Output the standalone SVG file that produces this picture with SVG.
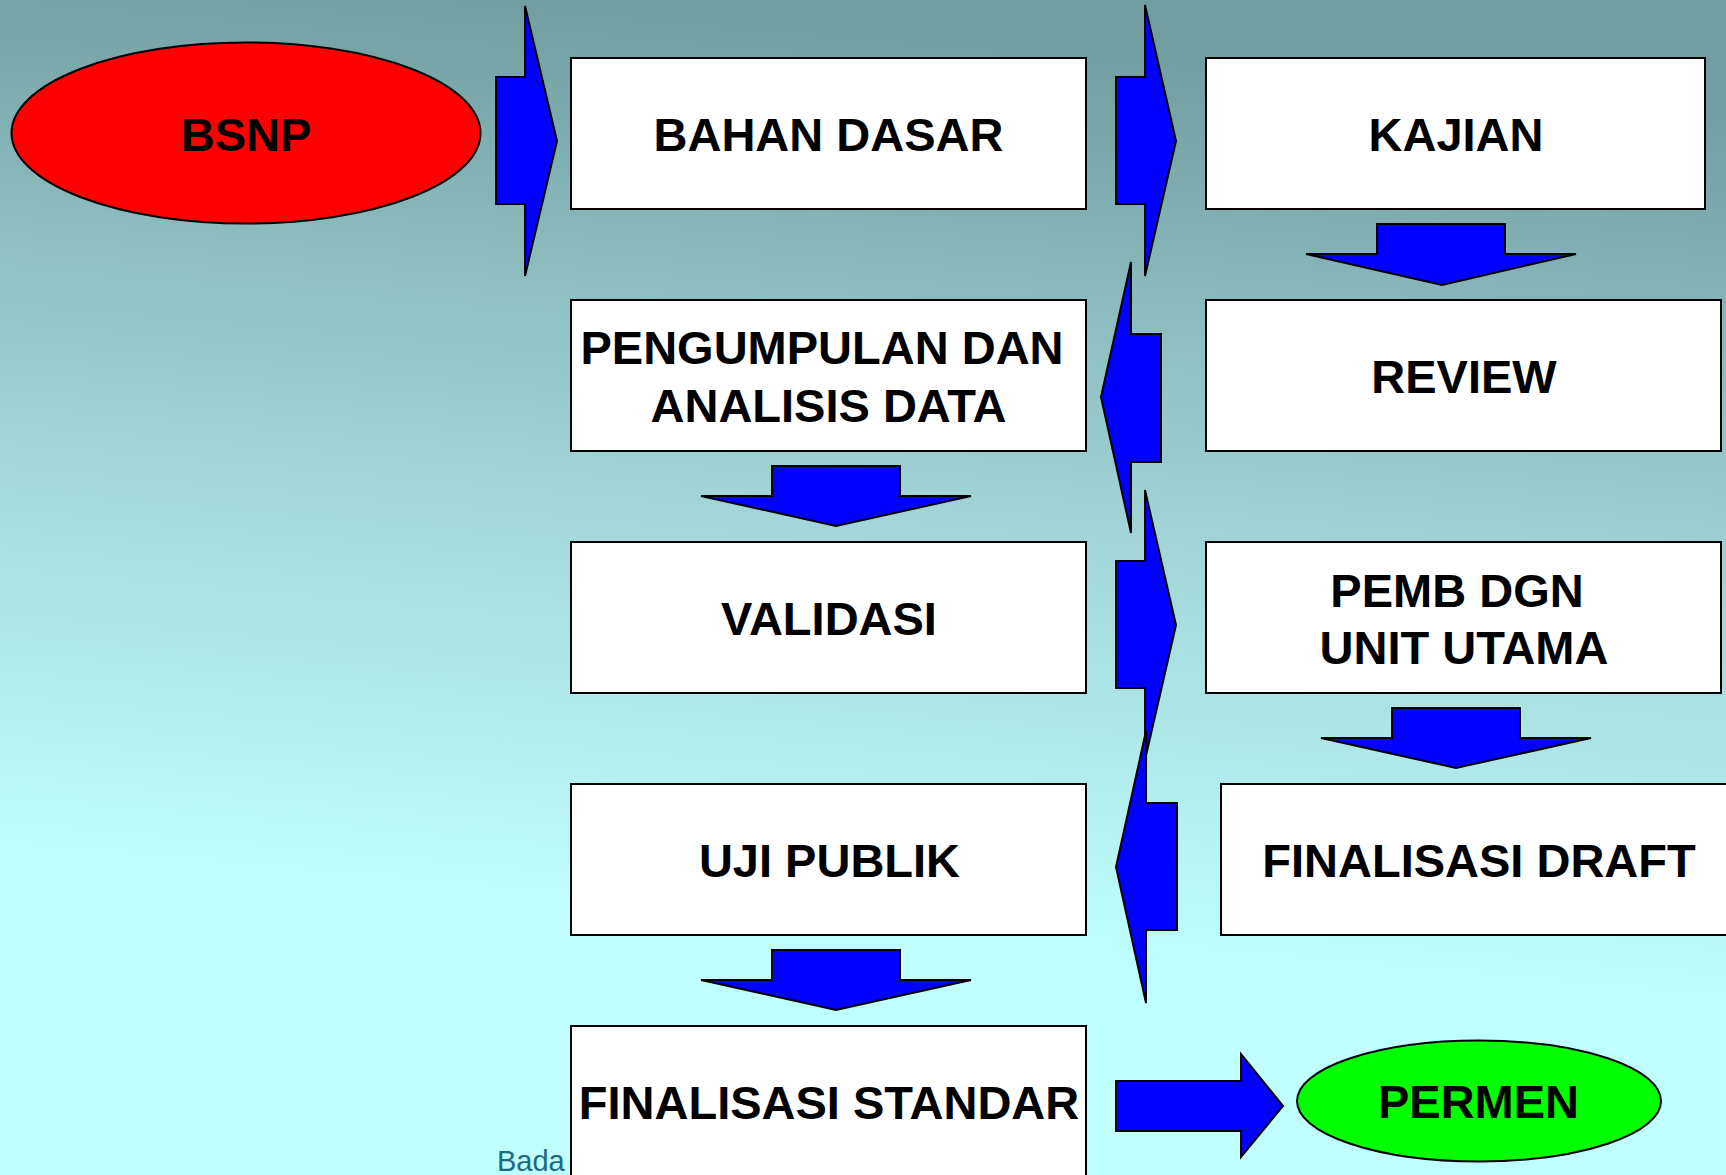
<svg xmlns="http://www.w3.org/2000/svg" width="1726" height="1175" viewBox="0 0 1726 1175">
<defs>
<linearGradient id="bg" gradientUnits="userSpaceOnUse" x1="500" y1="0" x2="420" y2="900">
<stop offset="0" stop-color="#719ea0"/>
<stop offset="0.5" stop-color="#9fd2d4"/>
<stop offset="1" stop-color="#c0ffff"/>
</linearGradient>
<style>
.box{fill:#ffffff;stroke:#000000;stroke-width:2}
.arr{fill:#0000ff;stroke:#000000;stroke-width:2;stroke-linejoin:miter}
.lbl{font-family:"Liberation Sans",Arial,sans-serif;font-weight:bold;font-size:47px;fill:#000000;text-anchor:middle}
.foot{font-family:"Liberation Sans",Arial,sans-serif;font-size:29px;fill:#1a6b80}
</style>
</defs>
<rect x="0" y="0" width="1726" height="1175" fill="url(#bg)"/>
<text class="foot" x="497" y="1171">Bada</text>

<g id="connectors">
<polygon class="arr" points="496,77 525,77 525,6 557,141 525,276 525,204 496,204"/>
<polygon class="arr" points="1116,77 1145,77 1145,5 1176,141 1145,276 1145,204 1116,204"/>
<polygon class="arr" points="1377,224 1505,224 1505,254 1576,254 1442,285 1306,254 1377,254"/>
<polygon class="arr" points="1161,334 1131,334 1131,262 1101,397 1131,533 1131,462 1161,462"/>
<polygon class="arr" points="772,466 900,466 900,496 971,496 836,526 701,496 772,496"/>
<polygon class="arr" points="1116,561 1145,561 1145,490 1176,625 1145,760 1145,688 1116,688"/>
<polygon class="arr" points="1392,708 1520,708 1520,738 1591,738 1456,768 1321,738 1392,738"/>
<polygon class="arr" points="1177,803 1146,803 1146,731 1116,867 1146,1003 1146,930 1177,930"/>
<polygon class="arr" points="772,950 900,950 900,980 971,980 836,1010 701,980 772,980"/>
<polygon class="arr" points="1116,1081 1241,1081 1241,1054 1283,1106 1241,1157 1241,1131 1116,1131"/>
</g>

<g id="bsnp">
<ellipse cx="246" cy="133" rx="234.5" ry="90.5" fill="#ff0000" stroke="#000000" stroke-width="2"/>
<text class="lbl" x="246" y="151">BSNP</text>
</g>
<g id="bahan-dasar">
<rect class="box" x="571" y="58" width="515" height="151"/>
<text class="lbl" x="828.5" y="151">BAHAN DASAR</text>
</g>
<g id="kajian">
<rect class="box" x="1206" y="58" width="499" height="151"/>
<text class="lbl" x="1456" y="151">KAJIAN</text>
</g>
<g id="pengumpulan">
<rect class="box" x="571" y="300" width="515" height="151"/>
<text class="lbl" x="822" y="364">PENGUMPULAN DAN</text>
<text class="lbl" x="828.5" y="422">ANALISIS DATA</text>
</g>
<g id="review">
<rect class="box" x="1206" y="300" width="515" height="151"/>
<text class="lbl" x="1464" y="393">REVIEW</text>
</g>
<g id="validasi">
<rect class="box" x="571" y="542" width="515" height="151"/>
<text class="lbl" x="829" y="635">VALIDASI</text>
</g>
<g id="pemb-dgn">
<rect class="box" x="1206" y="542" width="515" height="151"/>
<text class="lbl" x="1457" y="607">PEMB DGN</text>
<text class="lbl" x="1464" y="664">UNIT UTAMA</text>
</g>
<g id="uji-publik">
<rect class="box" x="571" y="784" width="515" height="151"/>
<text class="lbl" x="829.5" y="877">UJI PUBLIK</text>
</g>
<g id="finalisasi-draft">
<rect class="box" x="1221" y="784" width="530" height="151"/>
<text class="lbl" x="1479" y="877">FINALISASI DRAFT</text>
</g>
<g id="finalisasi-standar">
<rect class="box" x="571" y="1026" width="515" height="160"/>
<text class="lbl" x="829" y="1119">FINALISASI STANDAR</text>
</g>
<g id="permen">
<ellipse cx="1479" cy="1101" rx="182" ry="60.5" fill="#00ff00" stroke="#000000" stroke-width="2"/>
<text class="lbl" x="1478.5" y="1118">PERMEN</text>
</g>
</svg>
